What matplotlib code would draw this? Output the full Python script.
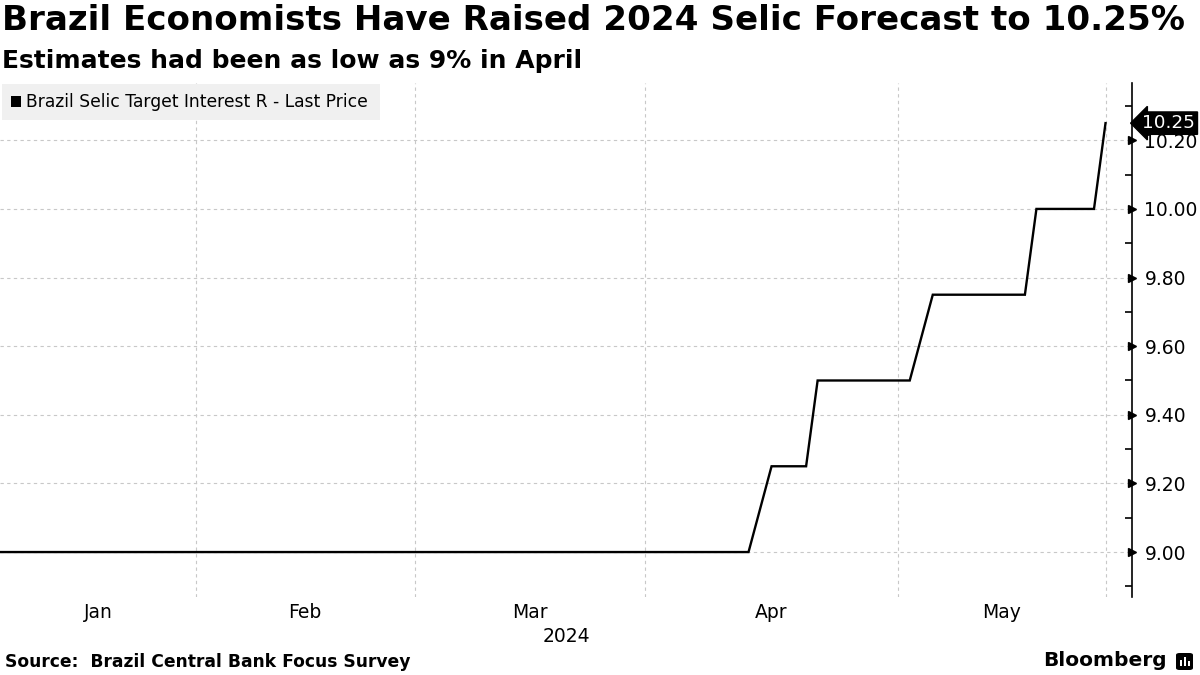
import matplotlib
matplotlib.use("Agg")
import matplotlib.pyplot as plt
from matplotlib.patches import FancyBboxPatch, Rectangle
import numpy as np

# corner points of the step series (value changes)
dates = ["2024-01-09", "2024-04-12", "2024-04-16", "2024-04-19", "2024-04-22",
         "2024-05-03", "2024-05-07", "2024-05-17", "2024-05-20", "2024-05-27",
         "2024-05-28"]
rates = [9.00, 9.00, 9.25, 9.25, 9.50, 9.50, 9.75, 9.75, 10.00, 10.00, 10.25]

# Brazil market holidays in the window (x axis is business days)
holidays = ["2024-01-01", "2024-02-12", "2024-02-13", "2024-03-29",
            "2024-05-01", "2024-05-30"]

months = ["Jan", "Feb", "Mar", "Apr", "May"]
month_starts = ["2024-01-01", "2024-02-01", "2024-03-01", "2024-04-01", "2024-05-01"]
yticks = [9.00, 9.20, 9.40, 9.60, 9.80, 10.00, 10.20]

title = "Brazil Economists Have Raised 2024 Selic Forecast to 10.25%"
subtitle = "Estimates had been as low as 9% in April"
series_name = "Brazil Selic Target Interest R - Last Price"
source = "Source:  Brazil Central Bank Focus Survey"

start = dates[0]
x = np.busday_count(start, dates, holidays=holidays)
first_bd = np.busday_offset(month_starts, 0, roll="forward", holidays=holidays)
bounds = np.maximum(np.busday_count(start, first_bd, holidays=holidays), 0)
bounds = list(bounds) + [int(x[-1])]

fig = plt.figure(figsize=(12, 6.75), dpi=100)
ax = fig.add_axes([0.0, 1 - 597 / 675, 1132 / 1200, (597 - 83) / 675])

grid_kw = dict(color="#c8c8c8", lw=0.8, ls=(0, (3, 3)), zorder=1)
for v in yticks:
    ax.axhline(v, **grid_kw)
for b in bounds[1:]:
    ax.axvline(b, **grid_kw)

ax.plot(x, rates, color="black", lw=1.7, solid_joinstyle="miter", zorder=3)

ax.set_xlim(0, 98.3)
ax.set_ylim(8.869, 10.367)

for s in ["top", "left", "bottom"]:
    ax.spines[s].set_visible(False)
ax.spines["right"].set_linewidth(1.2)

ax.yaxis.tick_right()
ax.set_yticks(yticks)
ax.set_yticklabels([f"{v:.2f}" for v in yticks])
ax.set_yticks(np.arange(8.9, 10.35, 0.1), minor=True)
ax.tick_params(axis="y", which="major", length=0, pad=9, labelsize=13.5)
ax.tick_params(axis="y", which="minor", direction="in", length=5, width=1.2)
ax.plot([1.0] * len(yticks), yticks, ls="none", marker=">", ms=5.5, color="black",
        transform=ax.get_yaxis_transform(), clip_on=False, zorder=5)

ax.set_xticks([])
for name, a, b in zip(months, bounds[:-1], bounds[1:]):
    ax.text((a + b) / 2, -0.012, name, transform=ax.get_xaxis_transform(),
            ha="center", va="top", fontsize=13.5)
ax.text(0.5, -0.058, "2024", transform=ax.transAxes, ha="center", va="top",
        fontsize=13.5)

# last value tag
tag_y = rates[-1]
ax.annotate(f"{tag_y:.2f}", xy=(1.0, tag_y), xycoords=ax.get_yaxis_transform(),
            xytext=(7.5, 0), textcoords="offset points", ha="left", va="center",
            color="white", fontsize=13.2, zorder=6,
            bbox=dict(boxstyle="larrow,pad=0.12", fc="black", ec="black"))

# legend
fig.patches.append(Rectangle((0.0015, 1 - 120 / 675), 378 / 1200, 36 / 675,
                             transform=fig.transFigure, fc="#f0f0f0", ec="none"))
fig.patches.append(Rectangle((11 / 1200, 1 - 107 / 675), 10 / 1200, 11 / 675,
                             transform=fig.transFigure, fc="black", ec="none"))
fig.text(26 / 1200, 1 - 102 / 675, series_name, fontsize=12.3, va="center", ha="left")

fig.text(0.002, 1 - 21 / 675, title, fontsize=24.6, fontweight="bold",
         va="center", ha="left")
fig.text(0.002, 1 - 61 / 675, subtitle, fontsize=18, fontweight="bold",
         va="center", ha="left")
fig.text(5 / 1200, 1 - 662 / 675, source, fontsize=12.3, fontweight="bold",
         va="center", ha="left")
fig.text(1167 / 1200, 1 - 661 / 675, "Bloomberg", fontsize=14.5, fontweight="bold",
         va="center", ha="right")

# small logo mark
fig.patches.append(FancyBboxPatch((1176 / 1200, 1 - 670 / 675), 17 / 1200, 17 / 675,
                                  boxstyle="round,pad=0,rounding_size=0.003",
                                  transform=fig.transFigure, fc="black", ec="none"))
for dx, h in [(4, 6), (8, 9), (12, 5)]:
    fig.patches.append(Rectangle(((1176 + dx) / 1200, 1 - 666 / 675), 2 / 1200, h / 675,
                                 transform=fig.transFigure, fc="white", ec="none"))

fig.savefig("out.png", dpi=100)
